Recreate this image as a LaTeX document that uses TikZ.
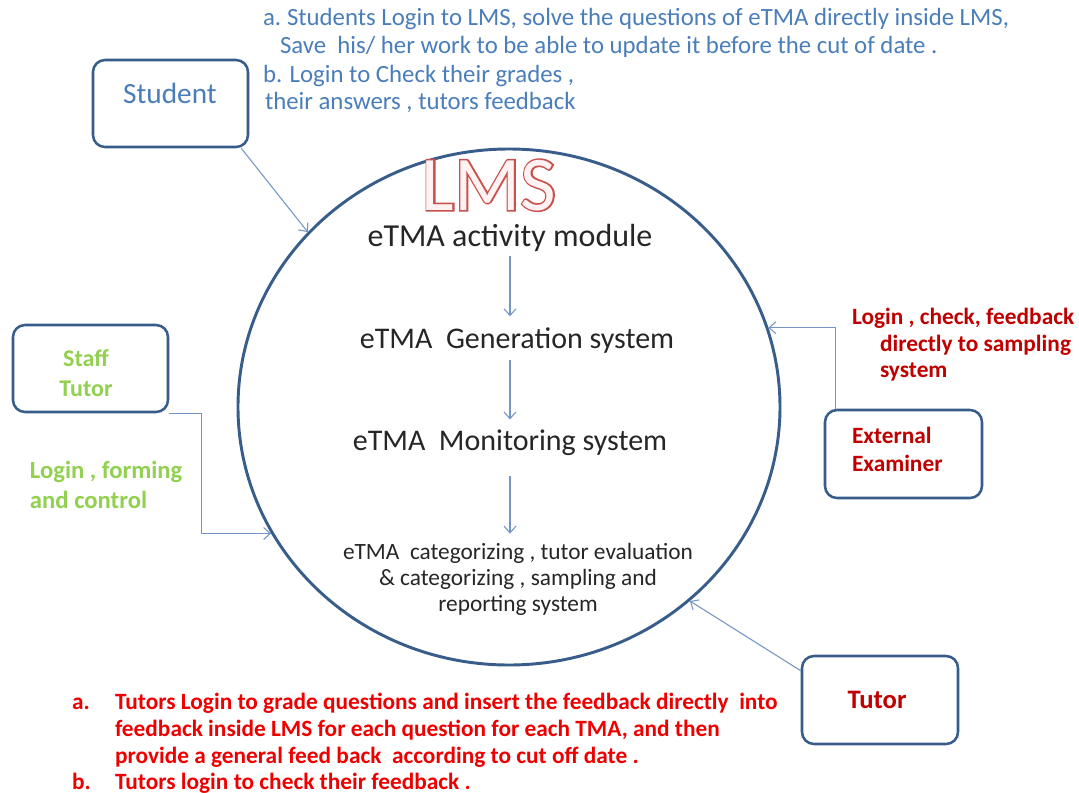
\documentclass[tikz,border=0pt]{standalone}
\usepackage{fontspec}
\setmainfont{Carlito}
\newfontfamily\lmsoutline[FakeBold=4]{Carlito}
\usetikzlibrary{shapes.geometric,arrows.meta,calc}
\definecolor{boxc}{HTML}{385D8A}
\definecolor{connc}{HTML}{7496C6}
\definecolor{bluet}{HTML}{4A7EBB}
\definecolor{greent}{HTML}{92D050}
\definecolor{redt}{HTML}{C00000}
\definecolor{redb}{HTML}{EE0000}
\definecolor{lmsred}{HTML}{C8504D}
\definecolor{lmsfill}{HTML}{FFF2F2}
\definecolor{darkt}{HTML}{262626}
\tikzset{
  box/.style={draw=boxc, line width=1.9pt, rounded corners=9pt, fill=white, inner sep=0pt},
  conn/.style={draw=connc, line width=0.8pt, -{Straight Barb[length=5pt,width=9pt]}},
  txt/.style={inner sep=0pt, outer sep=0pt},
  bluetxt/.style={txt, anchor=base west, text=bluet, font=\fontsize{18.6pt}{21pt}\selectfont},
  redtxt/.style={txt, anchor=base west, text=redb, font=\bfseries\fontsize{17.5pt}{20pt}\selectfont},
  exttxt/.style={txt, anchor=base west, text=redt, font=\bfseries\fontsize{17.5pt}{20pt}\selectfont},
  greentxt/.style={txt, anchor=base west, text=greent, font=\bfseries\fontsize{18.5pt}{22pt}\selectfont},
  systxt/.style={txt, text=darkt, font=\fontsize{22.5pt}{26pt}\selectfont},
}
\begin{document}
\begin{tikzpicture}[x=0.75pt,y=-0.75pt]
\useasboundingbox[fill=white] (0,0) rectangle (1079,793);

% LMS ellipse
\node[draw=boxc, line width=2.2pt, ellipse, minimum width=406.5pt, minimum height=387pt, inner sep=0pt] (lms) at (509,407) {};

% LMS title: red stroked letters with a light fill on top, in one node
\node[txt, anchor=base, text depth=0pt, font=\fontsize{58pt}{60pt}\selectfont] (lmstitle) at (489,210)
  {\rlap{\textcolor{lmsred}{\lmsoutline LMS}}\textcolor{lmsfill}{LMS}};

% system texts
\node[systxt, font=\fontsize{24pt}{28pt}\selectfont] (m1) at (510,238) {eTMA activity module};
\node[systxt] (m2) at (517,341) {eTMA\ \ Generation system};
\node[systxt] (m3) at (510,443) {eTMA\ \ Monitoring system};
\node[systxt, align=center, font=\fontsize{17.5pt}{19.5pt}\selectfont] (m4) at (518,579) {eTMA\ \ categorizing , tutor evaluation\\ \& categorizing , sampling and\\ reporting system};

\draw[conn, shorten <=3pt, shorten >=9pt] (m1.south) -- (m1.south |- m2.north);
\draw[conn, shorten <=5pt, shorten >=8pt] (m3.north |- m2.south) -- (m3.north);
\draw[conn, shorten <=15pt, shorten >=7pt] (m3.south) -- (m3.south |- m4.north);

% Student
\node[box, minimum width=116.25pt, minimum height=65.25pt] (student) at (170.5,103.5) {};
\node[txt, text=bluet, font=\fontsize{22pt}{26pt}\selectfont] (studentlbl) at (170,93) {Student};
\draw[conn] ([xshift=-6pt]student.south east) -- (lms.139);

% Staff Tutor
\node[box, minimum width=116.25pt, minimum height=65.25pt] (staff) at (90.5,368.5) {};
\node[txt, text=greent, align=center, font=\bfseries\fontsize{18pt}{22.5pt}\selectfont] (stafflbl) at (86,373) {Staff\\Tutor};
\draw[conn] (staff.south east) -- ++(32,0) |- (lms.208);

% External Examiner
\node[box, minimum width=117.75pt, minimum height=66pt] (ext) at (903.5,454) {};
\node[txt, text=redt, align=left, anchor=west, font=\bfseries\fontsize{17.5pt}{21pt}\selectfont] (extlbl) at (852,449) {External\\Examiner};
\draw[conn] ($(ext.north west)+(12,0)$) |- (lms.17);

% Tutor
\node[box, minimum width=117pt, minimum height=66pt] (tutor) at (880,700) {};
\node[txt, text=redt, font=\bfseries\fontsize{20pt}{24pt}\selectfont] (tutorlbl) at (877,700) {Tutor};
\draw[conn] ([yshift=-12pt]tutor.north west) -- (lms.313);

% Student notes
\node[bluetxt] (sa) at (263,25) {a.};
\node[bluetxt] (sa1) at (287,25) {Students Login to LMS, solve the questions of eTMA directly inside LMS,};
\node[bluetxt] (sa2) at (280,53) {Save\ \ his/ her work to be able to update it before the cut of date .};
\node[bluetxt] (sb1) at (263,82) {b. Login to Check their grades ,};
\node[bluetxt] (sb2) at (265,109) {their answers , tutors feedback};

% Staff notes
\node[greentxt] (g1) at (30,478) {Login , forming};
\node[greentxt] (g2) at (30,508) {and control};

% External notes
\node[exttxt] (e1) at (852,324) {Login , check, feedback};
\node[exttxt] (e2) at (880,351) {directly to sampling};
\node[exttxt] (e3) at (880,377) {system};

% Tutor notes
\node[redtxt] (ta) at (72,709) {a.};
\node[redtxt] (ta1) at (115,709) {Tutors Login to grade questions and insert the feedback directly\ \ into};
\node[redtxt] (ta2) at (115,736) {feedback inside LMS for each question for each TMA, and then};
\node[redtxt] (ta3) at (115,763) {provide a general feed back\ \ according to cut off date .};
\node[redtxt] (tb) at (72,789) {b.};
\node[redtxt] (tb1) at (115,789) {Tutors login to check their feedback .};
\end{tikzpicture}
\end{document}
